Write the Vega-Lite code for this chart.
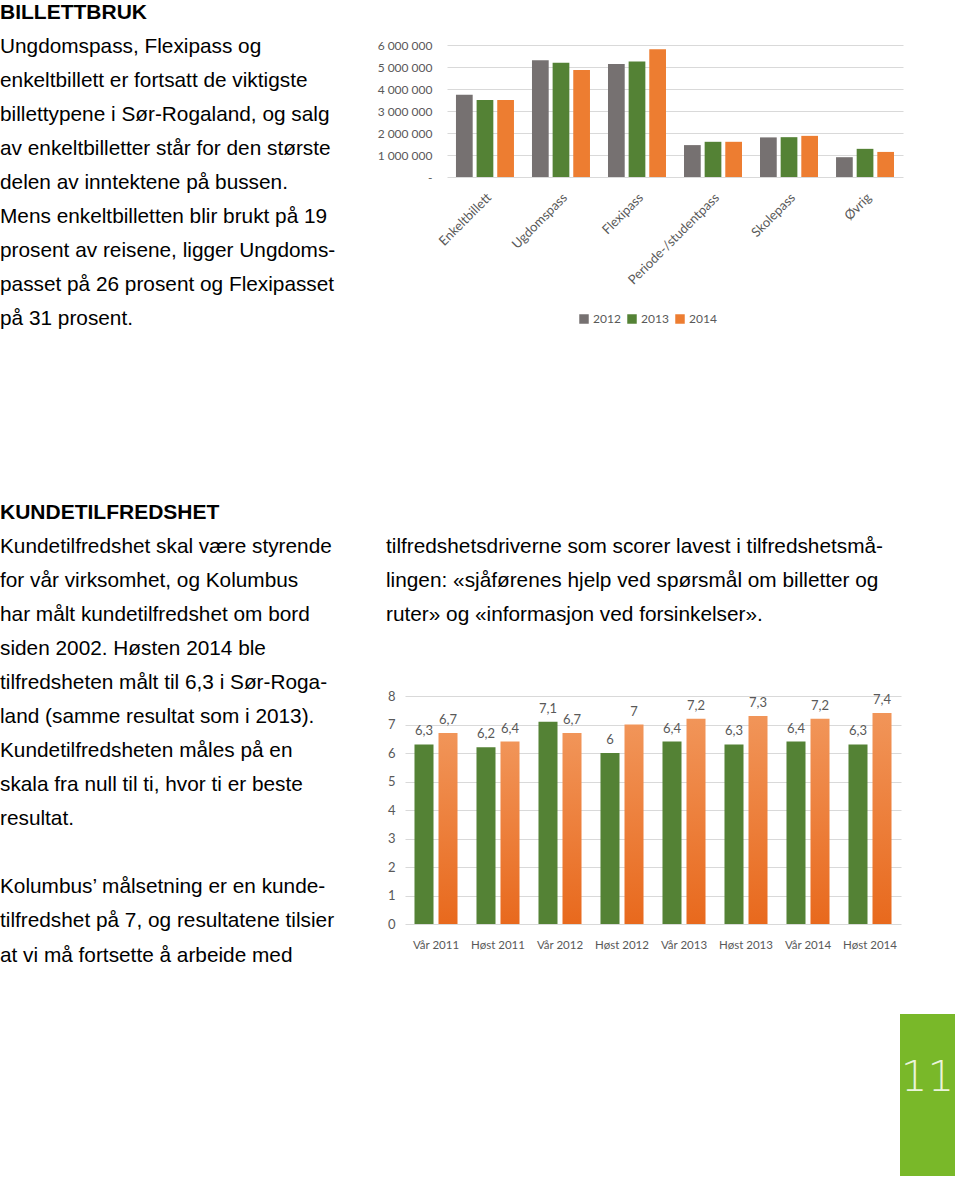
{
  "$schema": "https://vega.github.io/schema/vega-lite/v6.json",
  "padding": 0,
  "background": "white",
  "spacing": 0,
  "resolve": {"scale": {"xOffset": "independent"}},
  "config": {
    "view": {"stroke": null},
    "locale": {"number": {"decimal": ",", "thousands": " ", "grouping": [3], "currency": ["", " kr"]}}
  },
  "vconcat": [
    {
      "spacing": 0,
      "hconcat": [
        {
          "width": 377,
          "height": 480,
          "layer": [
            {
              "data": {"values": [{"row": 0, "text": "BILLETTBRUK"}]},
              "mark": {"type": "text", "align": "left", "baseline": "alphabetic", "font": "Liberation Sans", "fontSize": 21, "fontWeight": "bold", "color": "#000000"},
              "encoding": {
                "x": {"datum": 0, "type": "quantitative", "scale": {"domain": [0, 1]}, "axis": null},
                "y": {"field": "row", "type": "quantitative", "scale": {"domain": [-0.5588, 13.5588], "nice": false, "zero": false, "reverse": true}, "axis": null},
                "text": {"field": "text"}
              }
            },
            {
              "data": {"values": [
                {"row": 1, "text": "Ungdomspass, Flexipass og"},
                {"row": 2, "text": "enkeltbillett er fortsatt de viktigste"},
                {"row": 3, "text": "billettypene i Sør-Rogaland, og salg"},
                {"row": 4, "text": "av enkeltbilletter står for den største"},
                {"row": 5, "text": "delen av inntektene på bussen."},
                {"row": 6, "text": "Mens enkeltbilletten blir brukt på 19"},
                {"row": 7, "text": "prosent av reisene, ligger Ungdoms-"},
                {"row": 8, "text": "passet på 26 prosent og Flexipasset"},
                {"row": 9, "text": "på 31 prosent."}
              ]},
              "mark": {"type": "text", "align": "left", "baseline": "alphabetic", "font": "Liberation Sans", "fontSize": 20.8, "color": "#000000"},
              "encoding": {
                "x": {"datum": 0, "type": "quantitative", "scale": {"domain": [0, 1]}, "axis": null},
                "y": {"field": "row", "type": "quantitative", "scale": {"domain": [-0.5588, 13.5588], "nice": false, "zero": false, "reverse": true}, "axis": null},
                "text": {"field": "text"}
              }
            }
          ]
        },
        {
          "spacing": 0,
          "vconcat": [
            {"width": 456, "height": 39, "data": {"values": []}, "mark": "point", "encoding": {}},
            {
              "width": 456,
              "height": 132,
              "data": {"values": [
                {"type": "Enkeltbillett", "year": "2012", "value": 3740000},
                {"type": "Enkeltbillett", "year": "2013", "value": 3500000},
                {"type": "Enkeltbillett", "year": "2014", "value": 3500000},
                {"type": "Ugdomspass", "year": "2012", "value": 5310000},
                {"type": "Ugdomspass", "year": "2013", "value": 5190000},
                {"type": "Ugdomspass", "year": "2014", "value": 4860000},
                {"type": "Flexipass", "year": "2012", "value": 5140000},
                {"type": "Flexipass", "year": "2013", "value": 5250000},
                {"type": "Flexipass", "year": "2014", "value": 5810000},
                {"type": "Periode-/studentpass", "year": "2012", "value": 1450000},
                {"type": "Periode-/studentpass", "year": "2013", "value": 1600000},
                {"type": "Periode-/studentpass", "year": "2014", "value": 1600000},
                {"type": "Skolepass", "year": "2012", "value": 1800000},
                {"type": "Skolepass", "year": "2013", "value": 1810000},
                {"type": "Skolepass", "year": "2014", "value": 1870000},
                {"type": "Øvrig", "year": "2012", "value": 900000},
                {"type": "Øvrig", "year": "2013", "value": 1280000},
                {"type": "Øvrig", "year": "2014", "value": 1140000}
              ]},
              "mark": {"type": "bar"},
              "encoding": {
                "x": {
                  "field": "type", "type": "nominal",
                  "scale": {"domain": ["Enkeltbillett", "Ugdomspass", "Flexipass", "Periode-/studentpass", "Skolepass", "Øvrig"], "paddingInner": 0.237, "paddingOuter": 0.118},
                  "axis": {"title": null, "labelAngle": -45, "labelFont": "Lato", "labelFontSize": 13, "labelColor": "#595959", "ticks": false, "domain": false, "labelPadding": 14}
                },
                "xOffset": {"field": "year", "type": "nominal", "scale": {"domain": ["2012", "2013", "2014"], "paddingInner": 0.19, "paddingOuter": 0}},
                "y": {
                  "field": "value", "type": "quantitative",
                  "scale": {"domain": [0, 6000000], "nice": false},
                  "axis": {"title": null, "values": [0, 1000000, 2000000, 3000000, 4000000, 5000000, 6000000], "format": ",d", "labelExpr": "datum.value === 0 ? '-' : datum.label", "grid": true, "gridColor": "#D9D9D9", "domain": false, "ticks": false, "labelPadding": 15, "labelFont": "Lato", "labelFontSize": 12, "labelColor": "#595959"}
                },
                "color": {
                  "field": "year", "type": "nominal",
                  "scale": {"domain": ["2012", "2013", "2014"], "range": ["#767171", "#548235", "#ED7D31"]},
                  "legend": {"orient": "none", "legendX": 578, "legendY": 313, "direction": "horizontal", "title": null, "symbolType": "square", "symbolSize": 90, "symbolStrokeWidth": 0, "labelFont": "Lato", "labelFontSize": 12, "labelColor": "#595959", "columnPadding": 5, "padding": 0, "labelOffset": 3}
                }
              }
            }
          ]
        }
      ]
    },
    {
      "spacing": 0,
      "hconcat": [
        {
          "width": 386,
          "height": 490,
          "layer": [
            {
              "data": {"values": [{"row": 0, "text": "KUNDETILFREDSHET"}]},
              "mark": {"type": "text", "align": "left", "baseline": "alphabetic", "font": "Liberation Sans", "fontSize": 21, "fontWeight": "bold", "color": "#000000"},
              "encoding": {
                "x": {"datum": 0, "type": "quantitative", "scale": {"domain": [0, 1]}, "axis": null},
                "y": {"field": "row", "type": "quantitative", "scale": {"domain": [-1.1297, 13.248], "nice": false, "zero": false, "reverse": true}, "axis": null},
                "text": {"field": "text"}
              }
            },
            {
              "data": {"values": [
                {"row": 1, "text": "Kundetilfredshet skal være styrende"},
                {"row": 2, "text": "for vår virksomhet, og Kolumbus"},
                {"row": 3, "text": "har målt kundetilfredshet om bord"},
                {"row": 4, "text": "siden 2002. Høsten 2014 ble"},
                {"row": 5, "text": "tilfredsheten målt til 6,3 i Sør-Roga-"},
                {"row": 6, "text": "land (samme resultat som i 2013)."},
                {"row": 7, "text": "Kundetilfredsheten måles på en"},
                {"row": 8, "text": "skala fra null til ti, hvor ti er beste"},
                {"row": 9, "text": "resultat."},
                {"row": 11, "text": "Kolumbus’ målsetning er en kunde-"},
                {"row": 12, "text": "tilfredshet på 7, og resultatene tilsier"},
                {"row": 13, "text": "at vi må fortsette å arbeide med"}
              ]},
              "mark": {"type": "text", "align": "left", "baseline": "alphabetic", "font": "Liberation Sans", "fontSize": 20.8, "color": "#000000"},
              "encoding": {
                "x": {"datum": 0, "type": "quantitative", "scale": {"domain": [0, 1]}, "axis": null},
                "y": {"field": "row", "type": "quantitative", "scale": {"domain": [-1.1297, 13.248], "nice": false, "zero": false, "reverse": true}, "axis": null},
                "text": {"field": "text"}
              }
            }
          ]
        },
        {
          "spacing": 0,
          "vconcat": [
            {
              "width": 514,
              "height": 210,
              "data": {"values": [
                {"row": 1, "text": "tilfredshetsdriverne som scorer lavest i tilfredshetsmå-"},
                {"row": 2, "text": "lingen: «sjåførenes hjelp ved spørsmål om billetter og"},
                {"row": 3, "text": "ruter» og «informasjon ved forsinkelser»."}
              ]},
              "mark": {"type": "text", "align": "left", "baseline": "alphabetic", "font": "Liberation Sans", "fontSize": 20.8, "color": "#000000"},
              "encoding": {
                "x": {"datum": 0, "type": "quantitative", "scale": {"domain": [0, 1]}, "axis": null},
                "y": {"field": "row", "type": "quantitative", "scale": {"domain": [-1.1297, 5.032], "nice": false, "zero": false, "reverse": true}, "axis": null},
                "text": {"field": "text"}
              }
            },
            {
              "spacing": 0,
              "hconcat": [
                {"width": 1, "height": 1, "data": {"values": []}, "mark": "point", "encoding": {}},
                {
                  "width": 496,
                  "height": 228,
                  "data": {"values": [
                    {"period": "Vår 2011", "serie": "A", "score": 6.3},
                    {"period": "Vår 2011", "serie": "B", "score": 6.7},
                    {"period": "Høst 2011", "serie": "A", "score": 6.2},
                    {"period": "Høst 2011", "serie": "B", "score": 6.4},
                    {"period": "Vår 2012", "serie": "A", "score": 7.1},
                    {"period": "Vår 2012", "serie": "B", "score": 6.7},
                    {"period": "Høst 2012", "serie": "A", "score": 6.0},
                    {"period": "Høst 2012", "serie": "B", "score": 7.0},
                    {"period": "Vår 2013", "serie": "A", "score": 6.4},
                    {"period": "Vår 2013", "serie": "B", "score": 7.2},
                    {"period": "Høst 2013", "serie": "A", "score": 6.3},
                    {"period": "Høst 2013", "serie": "B", "score": 7.3},
                    {"period": "Vår 2014", "serie": "A", "score": 6.4},
                    {"period": "Vår 2014", "serie": "B", "score": 7.2},
                    {"period": "Høst 2014", "serie": "A", "score": 6.3},
                    {"period": "Høst 2014", "serie": "B", "score": 7.4}
                  ]},
                  "encoding": {
                    "x": {
                      "field": "period", "type": "nominal",
                      "scale": {"domain": ["Vår 2011", "Høst 2011", "Vår 2012", "Høst 2012", "Vår 2013", "Høst 2013", "Vår 2014", "Høst 2014"], "paddingInner": 0.306, "paddingOuter": 0.153},
                      "axis": {"title": null, "labelAngle": 0, "labelFont": "Lato", "labelFontSize": 11.5, "labelColor": "#595959", "ticks": false, "domain": false, "labelPadding": 15}
                    },
                    "xOffset": {"field": "serie", "type": "nominal", "scale": {"domain": ["A", "B"], "paddingInner": 0.208, "paddingOuter": 0}},
                    "y": {
                      "field": "score", "type": "quantitative",
                      "scale": {"domain": [0, 8], "nice": false},
                      "axis": {"title": null, "values": [0, 1, 2, 3, 4, 5, 6, 7, 8], "grid": true, "gridColor": "#D9D9D9", "domain": false, "ticks": false, "labelPadding": 10, "labelFont": "Lato", "labelFontSize": 13, "labelColor": "#595959"}
                    }
                  },
                  "layer": [
                    {"transform": [{"filter": "datum.serie === 'A'"}], "mark": {"type": "bar", "color": "#548235"}},
                    {"transform": [{"filter": "datum.serie === 'B'"}], "mark": {"type": "bar", "color": {"gradient": "linear", "x1": 0, "y1": 0, "x2": 0, "y2": 1, "stops": [{"offset": 0, "color": "#F19559"}, {"offset": 1, "color": "#E8691D"}]}}},
                    {
                      "mark": {"type": "text", "baseline": "bottom", "dy": -6, "font": "Lato", "fontSize": 13, "color": "#595959"},
                      "encoding": {"text": {"field": "score", "type": "quantitative", "format": ".1~f"}}
                    }
                  ]
                }
              ]
            },
            {"width": 10, "height": 63, "data": {"values": []}, "mark": "point", "encoding": {}},
            {
              "spacing": 0,
              "hconcat": [
                {"width": 514, "height": 162, "data": {"values": []}, "mark": "point", "encoding": {}},
                {
                  "width": 55,
                  "height": 162,
                  "view": {"fill": "#79B829", "stroke": null},
                  "data": {"values": [{"page": "11"}]},
                  "mark": {"type": "text", "font": "DejaVu Sans", "fontWeight": 200, "fontSize": 42, "color": "#EAF4DA", "dy": -17},
                  "encoding": {"text": {"field": "page"}}
                }
              ]
            }
          ]
        }
      ]
    }
  ]
}
